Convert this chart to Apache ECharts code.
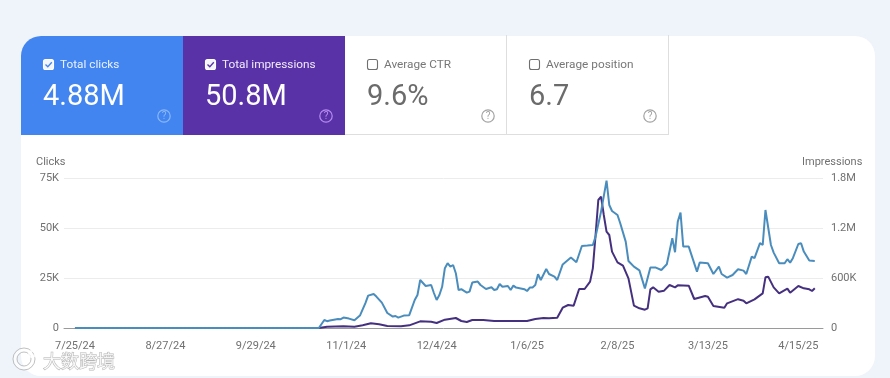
<!DOCTYPE html>
<html><head><meta charset="utf-8">
<style>html,body{margin:0;padding:0;background:#eff3fa}#c{width:890px;height:378px}</style>
<script src="https://cdn.jsdelivr.net/npm/echarts@6/dist/echarts.min.js"></script>
</head><body><div id="c"></div>
<script>
const xTickDays=[0,33,66,99,132,165,198,231,264];
const xTickLabels=['7/25/24','8/27/24','9/29/24','11/1/24','12/4/24','1/6/25','2/8/25','3/13/25','4/15/25'];
const clickDays=[0,89,91,92,93,96,97,98,100,102,104,106,107,109,110,112,114,116,117,118,120,122,124,125,126,128,130,131,132,133,134,135,136,137,138,139,140,141,143,144,145,147,148,150,152,153,154,155,156,158,159,160,161,164,165,166,167,168,169,170,172,173,175,176,178,181,183,185,187,189,190,192,194,195,196,198,199,201,202,204,206,208,210,212,214,216,218,219,220,221,222,224,227,228,231,233,235,236,238,240,242,244,245,247,248,250,251,252,254,255,257,259,260,261,262,264,265,266,268,270];
const clicksK=[0,0,4,3.4,3.7,4.5,4.4,5.2,4.7,3.9,6.2,12.4,16.2,17,15.7,12.7,7.5,5.7,6,5.2,6.2,6.4,14,16.5,24,21,21.5,17.5,14,16.5,20.6,29.9,32.4,30.7,31.5,27.4,19,19.4,17.7,18.2,22.7,23.2,21.5,19.5,20.4,19,19.4,22,20.6,21,19,21.2,20.2,19.4,18.5,20.2,20.2,21.5,26.9,24,29.5,27,25.7,24,31.8,35.2,32.9,41,41.2,41.5,45.7,58.2,73.7,61.5,58.5,56.5,52.4,43.2,33.5,30.7,28.8,19.8,30.2,30.2,29,31.9,44.9,37.9,53.2,57.7,40.7,40.7,28.2,32.7,32.4,27,30.7,27,25.2,26.5,29.4,28.7,27,35.7,34.9,42.4,41.5,59,41.5,37.7,32.4,32.4,34.4,32.7,34.9,42,42.4,38.2,33.7,33.5];
const imprDays=[0,89,92,98,102,105,108,111,114,119,122,126,130,132,135,139,141,143,145,149,153,165,168,171,173,176,178,180,182,184,186,188,189,190,191,192,193,194,195,196,198,200,202,204,206,208,209,210,211,213,215,217,219,220,224,226,230,231,233,237,238,242,244,245,248,251,252,253,255,257,260,261,264,266,268,269,270];
const impressionsK=[0,0,16,20,16,32,56,44,24,20,32,80,76,60,100,120,84,72,96,96,84,84,108,120,116,124,244,276,268,468,468,556,716,1116,1536,1576,1356,1156,1116,916,788,748,596,268,236,220,236,464,488,436,448,516,488,512,508,348,384,376,264,244,296,346,328,296,344,416,608,616,488,416,472,424,504,476,464,444,476];
const clickTicks=[0,25000,50000,75000];
const imprTicks=[0,600000,1200000,1800000];

const font='Roboto';
function txt(x,y,t,size,fill,weight){return {type:'text',x,y,z:5,style:{text:t,fontFamily:font,fontSize:size,fill,fontWeight:weight||400,textVerticalAlign:'middle'}};}
function box(x,y,stroke,checked,fillC){
  const a=[{type:'rect',z:5,shape:{x:x+.5,y:y+.5,width:10,height:10,r:2},style:{fill:checked?'#f4f6fb':'none',stroke,lineWidth:1.1}}];
  if(checked)a.push({type:'polyline',z:6,shape:{points:[[x+2.5,y+5.5],[x+4.8,y+7.8],[x+8.8,y+3.2]]},style:{fill:'none',stroke:fillC,lineWidth:1.3}});
  return a;
}
function help(cx,cy,c){return [{type:'circle',z:5,shape:{cx,cy,r:6.2},style:{fill:'none',stroke:c,lineWidth:1.2}},
  {type:'text',x:cx,y:cy+.5,z:5,style:{text:'?',fontFamily:font,fontSize:10,fill:c,textAlign:'center',textVerticalAlign:'middle'}}];}
function tile(x,fill,label,val,on,boxC,labC,valC,helpC){
  let els=[];
  if(fill)els.push({type:'rect',z:2,shape:{x,y:36,width:162,height:99,r:x===21?[20,0,0,0]:0},style:{fill}});
  else els.push(
    {type:'line',z:2,shape:{x1:x,y1:134.5,x2:x+162,y2:134.5},style:{stroke:'#dedede',lineWidth:1}},
    {type:'line',z:2,shape:{x1:x+161.5,y1:35,x2:x+161.5,y2:135},style:{stroke:'#dedede',lineWidth:1}});
  els=els.concat(box(x+22,59,boxC,on,fill));
  els.push(txt(x+39,65,label,11.8,labC,400));
  els.push(txt(x+22,98,val,29,valC));
  els=els.concat(help(x+143,116,helpC));
  return els;
}
const elements=[
  {type:'rect',z:1,shape:{x:21,y:36,width:854,height:340,r:20},style:{fill:'#fff'}},
  ...tile(345,null,'Average CTR','9.6%',false,'#6f6f6f','#777','#6b6b6b','#a3a3a3'),
  ...tile(507,null,'Average position','6.7',false,'#6f6f6f','#777','#6b6b6b','#a3a3a3'),
  ...tile(21,'#4285f0','Total clicks','4.88M',true,'#fff','#e8f1ff','#fff','#8ab8f6'),
  ...tile(183,'#5a32a8','Total impressions','50.8M',true,'#fff','#f1eafc','#fff','#b78cf0'),
  txt(36,162,'Clicks',11,'#707070'),
  {type:'ring',z:20,shape:{cx:24,cy:359,r:11,r0:7},style:{fill:'rgba(255,255,255,.75)',stroke:'rgba(130,130,130,.5)'}},
  {type:'circle',z:20,shape:{cx:32,cy:354,r:3},style:{fill:'none',stroke:'rgba(255,255,255,.85)',lineWidth:2}},
  {type:'circle',z:20,shape:{cx:39,cy:354,r:3},style:{fill:'none',stroke:'rgba(255,255,255,.85)',lineWidth:2}},
  {type:'text',z:20,x:43,y:361,style:{text:'大数跨境',fontFamily:'Noto Sans CJK SC',fontSize:18,fill:'rgba(255,255,255,.8)',stroke:'rgba(120,120,120,.55)',lineWidth:1,textVerticalAlign:'middle'}}
];
const labelStyle={fontFamily:font,fontSize:11,color:'#707070'};
const chart=echarts.init(document.getElementById('c'),null,{renderer:'canvas'});
function abbreviate(v){if(v>=1e6)return (v/1e6).toFixed(1)+'M';if(v>=1e3)return (v/1e3)+'K';return String(v);}
chart.setOption({
  animation:false,
  backgroundColor:'#eff3fa',
  graphic:{elements},
  grid:{left:64,right:67,top:178,bottom:50},
  xAxis:{type:'value',z:10,min:-4,max:273,splitLine:{show:false},
    axisLine:{onZero:false,lineStyle:{color:'#9a9a9a',width:1}},
    axisTick:{show:false,customValues:xTickDays},
    axisLabel:{...labelStyle,margin:13,customValues:xTickDays,formatter:v=>xTickLabels[xTickDays.indexOf(v)]||''}},
  yAxis:[
    {type:'value',z:10,min:0,max:clickTicks[3],interval:clickTicks[1],
     axisLine:{show:false},axisTick:{show:false},splitLine:{lineStyle:{color:'#ececec'}},
     axisLabel:{...labelStyle,margin:5,formatter:abbreviate}},
    {type:'value',z:10,min:0,max:imprTicks[3],interval:imprTicks[1],name:'Impressions',nameGap:10,
     nameTextStyle:{...labelStyle,align:'left',padding:[0,0,0,-21]},
     axisLine:{show:false},axisTick:{show:false},splitLine:{show:false},
     axisLabel:{...labelStyle,margin:8,formatter:abbreviate}}
  ],
  series:[
    {name:'Impressions',type:'line',yAxisIndex:1,showSymbol:false,smooth:false,z:13,
     lineStyle:{color:'#45307f',width:2},data:imprDays.map((d,i)=>[d,impressionsK[i]*1000])},
    {name:'Clicks',type:'line',yAxisIndex:0,showSymbol:false,smooth:false,z:14,
     lineStyle:{color:'#4a8dbd',width:2},data:clickDays.map((d,i)=>[d,clicksK[i]*1000])}
  ]
});
</script></body></html>
